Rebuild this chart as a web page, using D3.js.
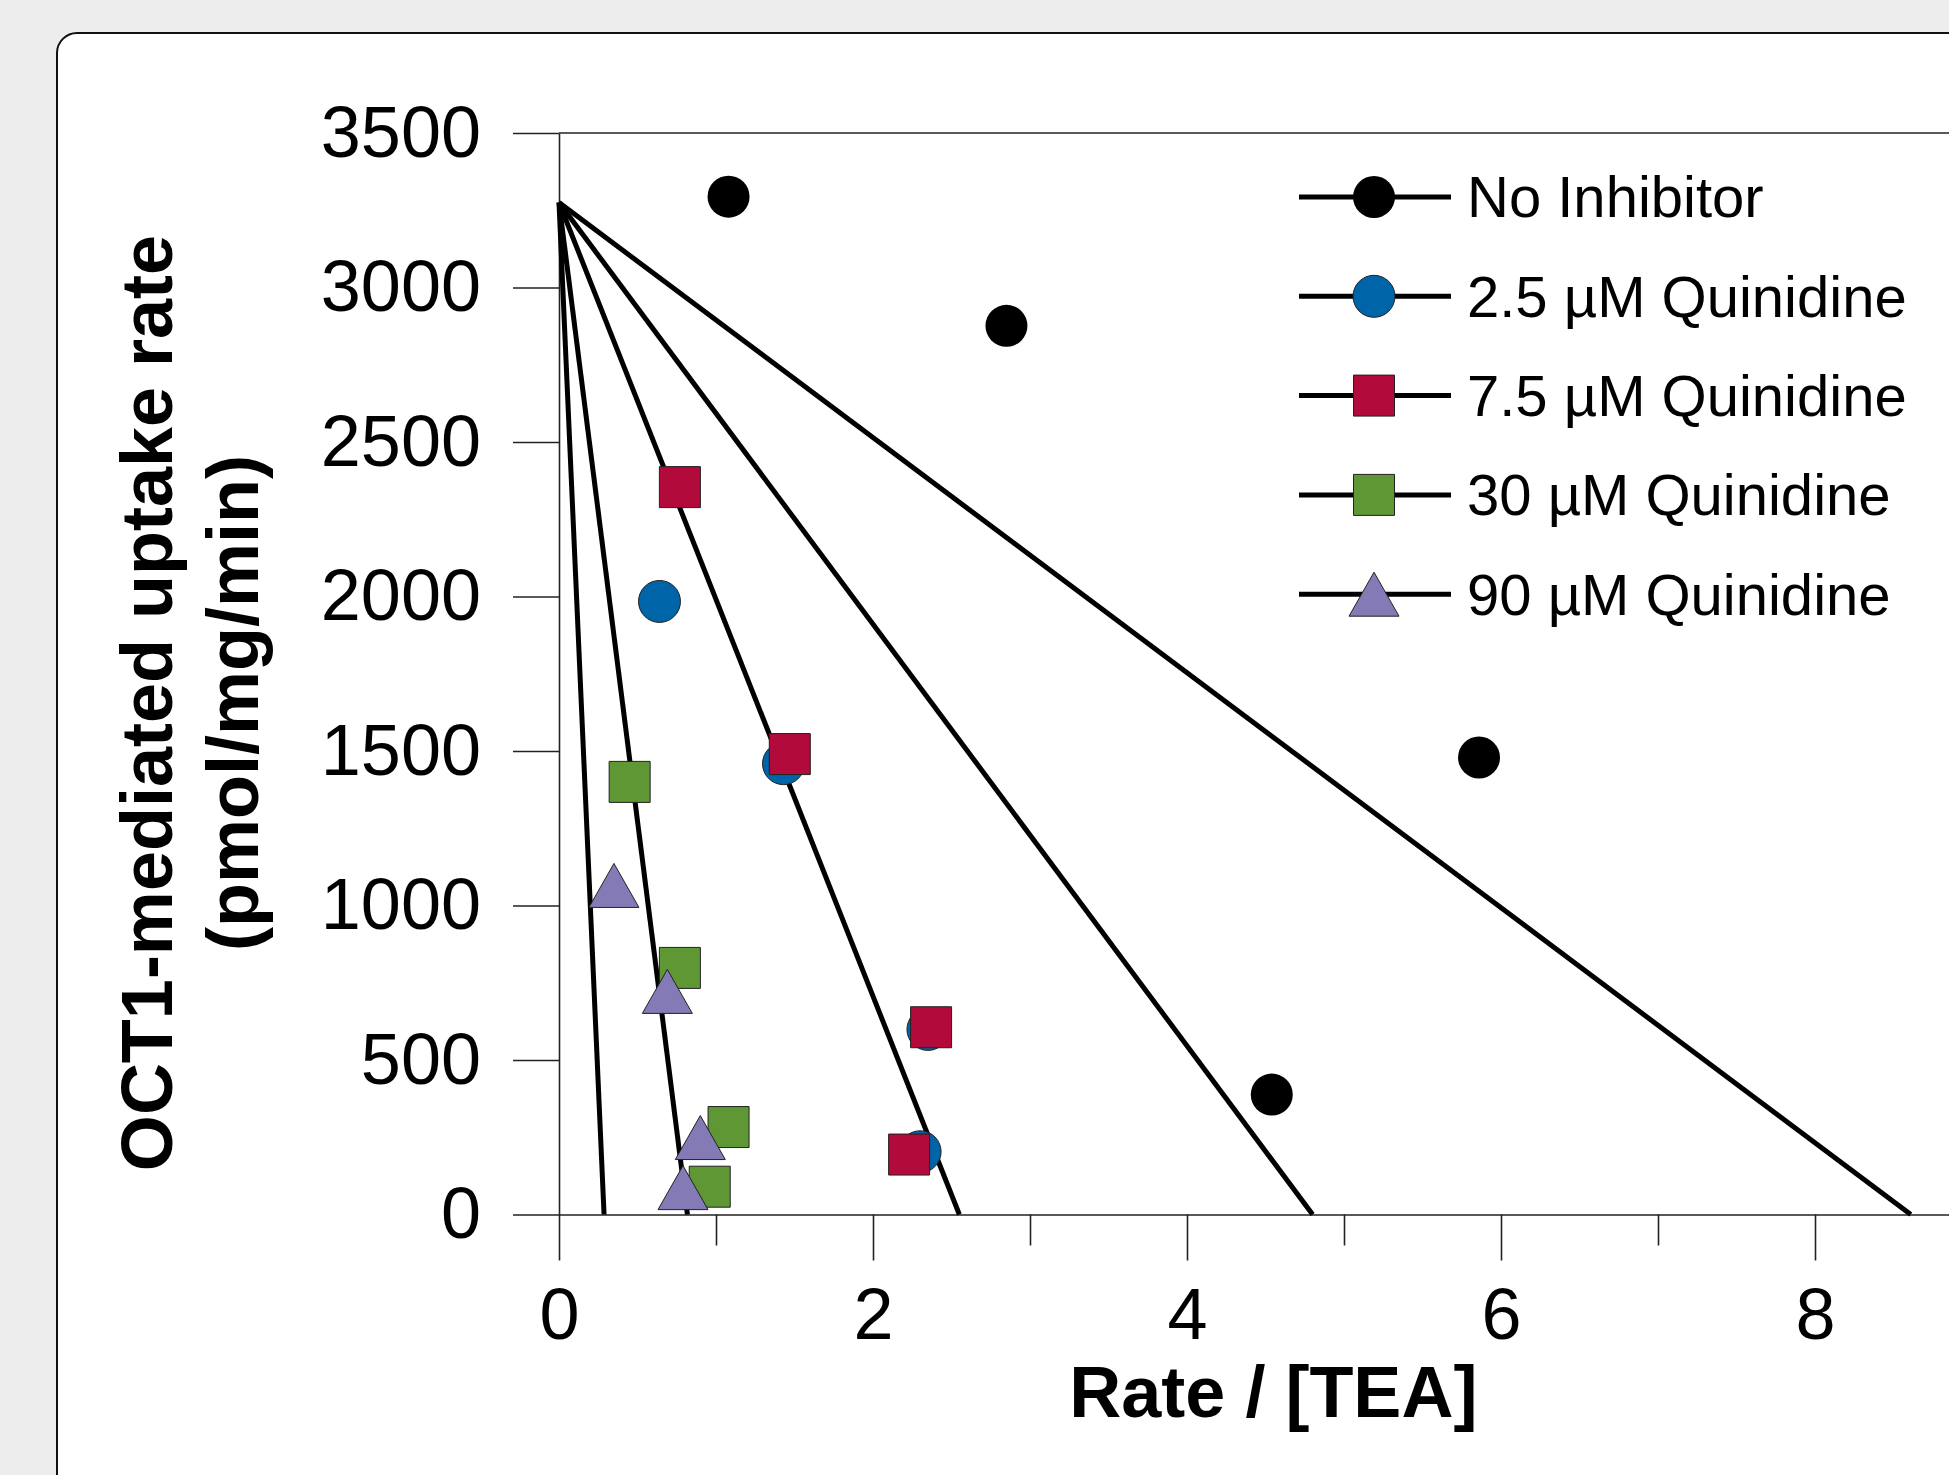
<!DOCTYPE html>
<html>
<head>
<meta charset="utf-8">
<script src="https://cdn.jsdelivr.net/npm/d3@7"></script>
<style>
    body { margin: 0; background: #ededed; }
    svg { display: block; font-family: "Liberation Sans", Arial, sans-serif; }
    .tick text { font-size: 72px; fill: #000; }
    .tick line, .domain { stroke: #222; stroke-width: 1.6; }
</style>
</head>
<body>
<div id="wrapper"></div>
<script>
// series names (legend order)
const seriesNames = ['No Inhibitor', '2.5 µM Quinidine', '7.5 µM Quinidine', '30 µM Quinidine', '90 µM Quinidine'];

// measured points, Rate/[TEA] (x) vs uptake rate (y)
const noInhibitorX = [1.08, 2.85, 4.54, 5.86];
const noInhibitorY = [3294, 2876, 388, 1479];
const quin25X = [0.64, 1.43, 2.35, 2.30];
const quin25Y = [1984, 1459, 599, 203];
const quin75X = [0.77, 1.47, 2.37, 2.23];
const quin75Y = [2354, 1490, 606, 194];
const quin30X = [0.45, 0.77, 1.08, 0.96];
const quin30Y = [1400, 798, 283, 90];
const quin90X = [0.35, 0.69, 0.90, 0.79];
const quin90Y = [1065, 722, 249, 87];

// fitted lines: shared y intercept, one x intercept per series
const fitVmax = 3275;
const fitXIntercepts = [8.61, 4.80, 2.55, 0.818, 0.287];

// axis ticks
const yTicks = [0, 500, 1000, 1500, 2000, 2500, 3000, 3500];
const xMajorTicks = [0, 2, 4, 6, 8];
const xMinorTicks = [1, 3, 5, 7, 9];

function drawChart() {

    const seriesX = [noInhibitorX, quin25X, quin75X, quin30X, quin90X];
    const seriesY = [noInhibitorY, quin25Y, quin75Y, quin30Y, quin90Y];
    const data = seriesNames.map((name, i) => ({
        name,
        points: seriesX[i].map((x, j) => ({ x, y: seriesY[i][j] })),
        xInt: fitXIntercepts[i]
    }));

    const colors = ['#000000', '#0064a8', '#b20a3b', '#5f9734', '#837ab6'];
    const shapes = ['circle', 'circle', 'square', 'square', 'triangle'];

    const dimensions = {
        width: 1949,
        height: 1475,
        margin: { top: 133, left: 559 }
    };
    const boundedHeight = 1214.5 - dimensions.margin.top;
    const boundedWidth = 9.1 * 157;

    const wrapper = d3.select('#wrapper').append('svg')
        .attr('width', dimensions.width)
        .attr('height', dimensions.height);

    // white card
    wrapper.append('rect')
        .attr('x', 57)
        .attr('y', 33)
        .attr('width', 2100)
        .attr('height', 1600)
        .attr('rx', 20)
        .attr('fill', '#fff')
        .attr('stroke', '#111')
        .attr('stroke-width', 2);

    const bounds = wrapper.append('g')
        .attr('transform', `translate(${dimensions.margin.left}, ${dimensions.margin.top})`);

    const xScale = d3.scaleLinear()
        .domain([0, 9.1])
        .range([0, boundedWidth]);

    const yScale = d3.scaleLinear()
        .domain([0, 3500])
        .range([boundedHeight, 0]);

    // top frame line
    bounds.append('line')
        .attr('x1', 0)
        .attr('x2', boundedWidth)
        .attr('y1', 0)
        .attr('y2', 0)
        .attr('stroke', '#222')
        .attr('stroke-width', 1.6);

    const yAxisGenerator = d3.axisLeft(yScale)
        .tickValues(yTicks)
        .tickFormat(d3.format('d'))
        .tickSize(46)
        .tickSizeOuter(0)
        .tickPadding(32);

    bounds.append('g')
        .attr('class', 'y-axis')
        .call(yAxisGenerator);

    const xAxisGenerator = d3.axisBottom(xScale)
        .tickValues(xMajorTicks)
        .tickSize(46)
        .tickSizeOuter(0)
        .tickPadding(27);

    bounds.append('g')
        .attr('class', 'x-axis')
        .attr('transform', `translate(0, ${boundedHeight})`)
        .call(xAxisGenerator);

    const xMinorGenerator = d3.axisBottom(xScale)
        .tickValues(xMinorTicks)
        .tickSize(31)
        .tickSizeOuter(0)
        .tickFormat('');

    bounds.append('g')
        .attr('class', 'x-axis-minor')
        .attr('transform', `translate(0, ${boundedHeight})`)
        .call(xMinorGenerator)
        .select('.domain').remove();

    // fitted lines
    const lineGenerator = d3.line()
        .x(d => xScale(d[0]))
        .y(d => yScale(d[1]));

    bounds.append('g').selectAll('path')
        .data(data)
        .join('path')
        .attr('d', d => lineGenerator([[0, fitVmax], [d.xInt, 0]]))
        .attr('fill', 'none')
        .attr('stroke', '#000')
        .attr('stroke-width', 5);

    // triangle centred on its bounding box, 50 wide x 44 tall
    const boxTriangle = {
        draw(context) {
            context.moveTo(0, -22);
            context.lineTo(25, 22);
            context.lineTo(-25, 22);
            context.closePath();
        }
    };
    const symbolFor = shape => {
        if (shape === 'circle') return d3.symbol(d3.symbolCircle, Math.PI * 21 * 21)();
        if (shape === 'square') return d3.symbol(d3.symbolSquare, 41 * 41)();
        return d3.symbol(boxTriangle)();
    };

    data.forEach((s, i) => {
        bounds.append('g').selectAll('path')
            .data(s.points)
            .join('path')
            .attr('d', symbolFor(shapes[i]))
            .attr('transform', d => `translate(${xScale(d.x)}, ${yScale(d.y)})`)
            .attr('fill', colors[i])
            .attr('stroke', i === 0 ? 'none' : '#222')
            .attr('stroke-width', 1);
    });

    // legend
    const legend = wrapper.append('g')
        .attr('transform', 'translate(1299, 197)');

    const rows = legend.selectAll('g')
        .data(data)
        .join('g')
        .attr('transform', (d, i) => `translate(0, ${i * 99.3})`);

    rows.append('line')
        .attr('x1', 0)
        .attr('x2', 152)
        .attr('stroke', '#000')
        .attr('stroke-width', 5);

    rows.append('path')
        .attr('d', (d, i) => symbolFor(shapes[i]))
        .attr('transform', 'translate(75, 0)')
        .attr('fill', (d, i) => colors[i])
        .attr('stroke', (d, i) => i === 0 ? 'none' : '#222')
        .attr('stroke-width', 1);

    rows.append('text')
        .attr('x', 168)
        .attr('dy', '0.35em')
        .style('font-size', '58px')
        .text(d => d.name);

    // axis titles
    wrapper.append('text')
        .attr('x', dimensions.margin.left + boundedWidth / 2)
        .attr('y', 1417)
        .attr('text-anchor', 'middle')
        .style('font-size', '72px')
        .style('font-weight', 'bold')
        .text('Rate / [TEA]');

    wrapper.append('text')
        .attr('transform', 'translate(172, 703) rotate(-90)')
        .attr('text-anchor', 'middle')
        .style('font-size', '72px')
        .style('font-weight', 'bold')
        .text('OCT1-mediated uptake rate');

    wrapper.append('text')
        .attr('transform', 'translate(258, 703) rotate(-90)')
        .attr('text-anchor', 'middle')
        .style('font-size', '72px')
        .style('font-weight', 'bold')
        .text('(pmol/mg/min)');
}

drawChart();
</script>
</body>
</html>
